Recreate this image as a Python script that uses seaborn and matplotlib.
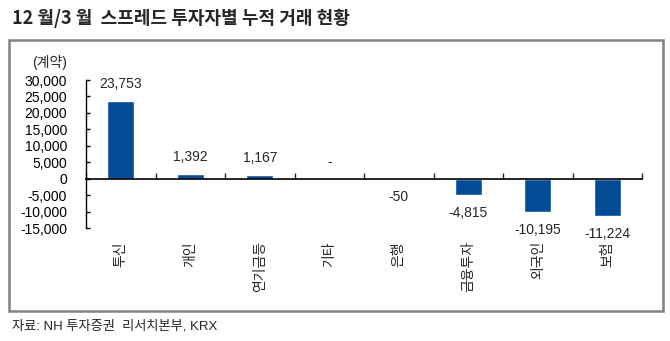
#
#------------------------------------------------------------------------#
# Import required modules
import numpy as np
import pandas as pd
import seaborn as sns
import matplotlib.pyplot as plt
from matplotlib.patches import Rectangle
from matplotlib.ticker import FuncFormatter, FixedLocator
#
#------------------------------------------------------------------------#
# Data
investors = ["투신", "개인", "연기금등", "기타", "은행", "금융투자", "외국인", "보험"]
contracts = [23753, 1392, 1167, 0, -50, -4815, -10195, -11224]
yTicks = [-15000, -10000, -5000, 0, 5000, 10000, 15000, 20000, 25000, 30000]
title = "12 월/3 월  스프레드 투자자별 누적 거래 현황"
unitLabel = "(계약)"
source = "자료: NH 투자증권  리서치본부, KRX"
#
data = pd.DataFrame({"investor": investors, "contracts": contracts})
#
#------------------------------------------------------------------------#
# Style
sns.set_style("white")
plt.rcParams["font.family"] = ["Liberation Sans", "Noto Sans CJK KR", "DejaVu Sans"]
barColor = "#034B95"
#
fig = plt.figure(figsize=(6.7, 3.41), dpi=100)
W, H = 670, 341
ax = fig.add_axes([86 / W, 1 - 228 / H, (642 - 86) / W, (228 - 80) / H])
#
sns.barplot(data=data, x="investor", y="contracts", color=barColor,
            width=0.39, saturation=1, ax=ax)
#
ax.set_ylim(-15000, 30000)
ax.set_xlim(-0.5, len(investors) - 0.5)
ax.yaxis.set_major_locator(FixedLocator(yTicks))
ax.yaxis.set_major_formatter(FuncFormatter(lambda v, p: f"{int(v):,}"))
ax.set_xlabel("")
ax.set_ylabel("")
#
# spines: left axis, x axis through zero
for s in ["top", "right"]:
    ax.spines[s].set_visible(False)
ax.spines["bottom"].set_position(("data", 0))
ax.spines["bottom"].set_color("black")
ax.spines["bottom"].set_linewidth(1.2)
ax.spines["left"].set_color("black")
ax.spines["left"].set_linewidth(1.0)
#
ax.tick_params(axis="y", direction="in", length=3, width=1, pad=13.5,
               labelsize=10, left=True, colors="black")
ax.set_xticks(np.arange(-0.5, len(investors)), minor=True)
ax.tick_params(axis="x", which="minor", direction="in", length=4, width=1,
               bottom=True)
ax.tick_params(axis="x", which="major", length=0, pad=45, labelsize=10)
for lbl in ax.get_xticklabels():
    lbl.set_rotation(90)
    lbl.set_va("top")
    lbl.set_ha("center")
#
# value labels
for i, v in enumerate(contracts):
    txt = "-" if v == 0 else f"{v:,}"
    off = 12 if v >= 0 else -13
    ax.annotate(txt, (i, v), xytext=(0, off), textcoords="offset points",
                ha="center", va="center", fontsize=10)
#
#------------------------------------------------------------------------#
# Title, unit, frame, source
fig.text(12 / W, 1 - 18 / H, title, fontsize=13, fontweight="bold",
         va="center", ha="left", family=["Noto Sans CJK KR", "DejaVu Sans"])
fig.text(67 / W, 1 - 62 / H, unitLabel, fontsize=10, ha="right", va="center")
fig.patches.append(Rectangle((9 / W, 1 - 311 / H), (663 - 9) / W, (311 - 40) / H,
                             transform=fig.transFigure, fill=False,
                             edgecolor="#808080", linewidth=1.8))
fig.text(12 / W, 1 - 326 / H, source, fontsize=9.5, ha="left", va="center")
#
fig.savefig("out.png", dpi=100)
